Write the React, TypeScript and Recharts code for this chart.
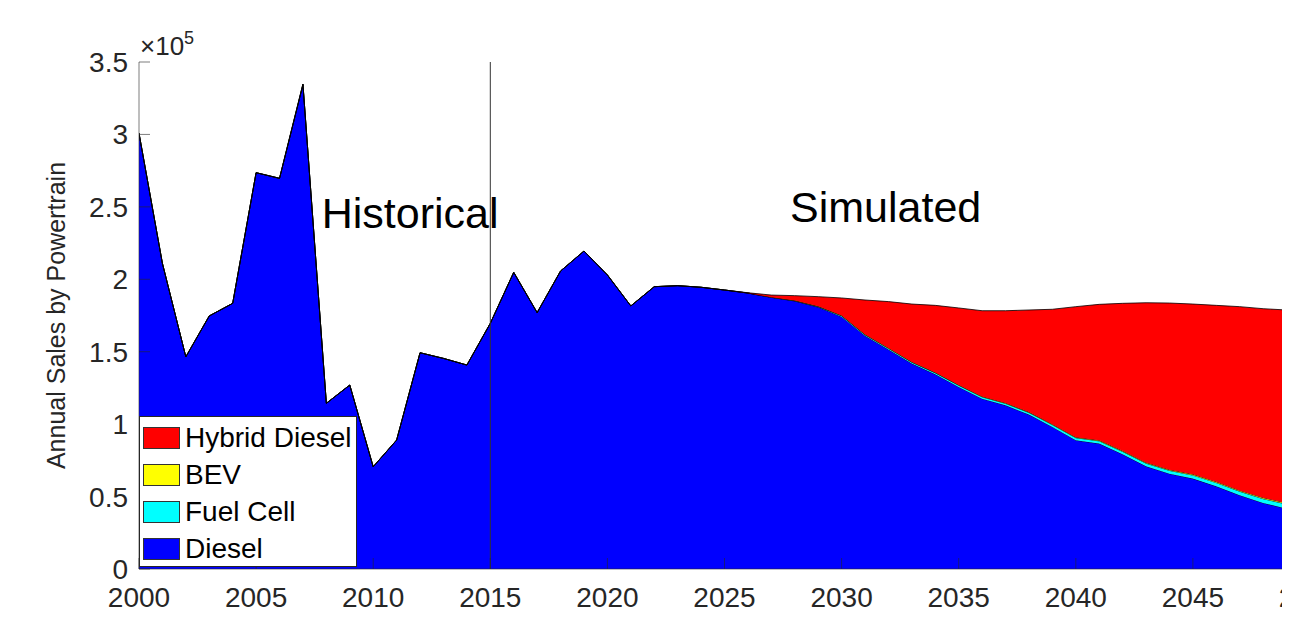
import React from 'react';
import { AreaChart, Area, XAxis, YAxis, ReferenceLine, ReferenceDot, Legend } from 'recharts';

const years = [
  2000, 2001, 2002, 2003, 2004, 2005, 2006, 2007, 2008, 2009,
  2010, 2011, 2012, 2013, 2014, 2015, 2016, 2017, 2018, 2019,
  2020, 2021, 2022, 2023, 2024, 2025, 2026, 2027, 2028, 2029,
  2030, 2031, 2032, 2033, 2034, 2035, 2036, 2037, 2038, 2039,
  2040, 2041, 2042, 2043, 2044, 2045, 2046, 2047, 2048, 2049,
  2050,
];

const diesel = [
  300800, 211000, 146500, 174700, 183400, 273600, 269700, 334600, 114400, 127000,
  70600, 89000, 149300, 145400, 140800, 169600, 204800, 177000, 205700, 219500,
  203000, 181600, 194900, 195600, 194500, 192600, 190500, 187500, 185000, 180800,
  174200, 161000, 151500, 141800, 134400, 125700, 117600, 113000, 106600, 98100,
  88900, 86600, 79200, 70900, 65800, 62400, 57100, 50900, 45600, 41700,
  38500,
];

const fuelCell = [
  0, 0, 0, 0, 0, 0, 0, 0, 0, 0,
  0, 0, 0, 0, 0, 0, 0, 0, 0, 0,
  0, 0, 0, 0, 0, 0, 0, 100, 200, 400,
  600, 700, 800, 900, 1000, 1100, 1200, 1300, 1400, 1500,
  1700, 1800, 1900, 2100, 2200, 2400, 2500, 2700, 2900, 3100,
  3300,
];

const bev = [
  0, 0, 0, 0, 0, 0, 0, 0, 0, 0,
  0, 0, 0, 0, 0, 0, 0, 0, 0, 0,
  0, 0, 0, 0, 0, 0, 0, 50, 100, 120,
  150, 170, 190, 210, 230, 250, 280, 310, 340, 370,
  400, 430, 460, 490, 520, 550, 600, 650, 700, 750,
  800,
];

const hybridDiesel = [
  0, 0, 0, 0, 0, 0, 0, 0, 0, 0,
  0, 0, 0, 0, 0, 0, 0, 0, 0, 0,
  0, 0, 0, 0, 0, 0, 200, 1450, 3400, 6680,
  12150, 23830, 32110, 39990, 46370, 53150, 59220, 63690, 70460, 79330,
  90100, 93870, 101840, 110310, 115080, 117550, 121800, 126850, 130500, 133250,
  135400,
];

const xTicks = [2000, 2005, 2010, 2015, 2020, 2025, 2030, 2035, 2040, 2045, 2050];
const yTicks = [0, 50000, 100000, 150000, 200000, 250000, 300000, 350000];
const legendOrder = ['Hybrid Diesel', 'BEV', 'Fuel Cell', 'Diesel'];
const seriesColors: Record<string, string> = {
  Diesel: '#0000ff',
  'Fuel Cell': '#00ffff',
  BEV: '#ffff00',
  'Hybrid Diesel': '#ff0000',
};

const data = years.map((year, i) => ({
  year,
  Diesel: diesel[i],
  'Fuel Cell': fuelCell[i],
  BEV: bev[i],
  'Hybrid Diesel': hybridDiesel[i],
}));

const FONT = '"Liberation Sans", Arial, Helvetica, sans-serif';
const AXIS = '#262626';

const BottomTick = (props: any) => {
  const { x, y, payload } = props;
  return (
    <g>
      <line x1={x} x2={x} y1={y} y2={y - 11} stroke={AXIS} strokeWidth={0.6} />
      <text x={x} y={y + 38} textAnchor="middle" fontSize={28} fill={AXIS} fontFamily={FONT}>
        {payload.value}
      </text>
    </g>
  );
};

const TopTick = (props: any) => {
  const { x, y } = props;
  return <line x1={x} x2={x} y1={y} y2={y + 11} stroke={AXIS} strokeWidth={0.6} />;
};

const LeftTick = (props: any) => {
  const { x, y, payload } = props;
  const v = payload.value / 100000;
  return (
    <g>
      <line x1={x} x2={x + 11} y1={y} y2={y} stroke={AXIS} strokeWidth={0.6} />
      <text x={x - 11} y={y} dy="0.355em" textAnchor="end" fontSize={28} fill={AXIS} fontFamily={FONT}>
        {String(v)}
      </text>
    </g>
  );
};

const LegendBox = () => (
  <div
    style={{
      width: 218,
      height: 151,
      boxSizing: 'border-box',
      border: '1px solid #262626',
      background: '#fff',
      paddingTop: 2,
      fontFamily: FONT,
      fontSize: 28,
      color: '#000',
    }}
  >
    {legendOrder.map((name) => (
      <div key={name} style={{ display: 'flex', alignItems: 'center', height: 37 }}>
        <span
          style={{
            display: 'inline-block',
            width: 37,
            height: 22,
            marginLeft: 3,
            background: seriesColors[name],
            border: '1px solid #333',
            boxSizing: 'border-box',
          }}
        />
        <span style={{ marginLeft: 5, lineHeight: '37px', whiteSpace: 'nowrap' }}>{name}</span>
      </div>
    ))}
  </div>
);

const textLabel = (text: string) => (props: any) => {
  const vb = props.viewBox || {};
  return (
    <text x={vb.x} y={vb.y} fontSize={43} fill="#000" fontFamily={FONT}>
      {text}
    </text>
  );
};

const YLabel = (props: any) => {
  const vb = props.viewBox || {};
  const cy = vb.y + vb.height / 2;
  return (
    <g>
      <text
        x={65}
        y={cy}
        transform={`rotate(-90, 65, ${cy})`}
        textAnchor="middle"
        fontSize={25}
        fill={AXIS}
        fontFamily={FONT}
      >
        Annual Sales by Powertrain
      </text>
      <text x={vb.x + vb.width + 1} y={vb.y - 7} fontSize={26} fill={AXIS} fontFamily={FONT}>
        ×10
        <tspan dy={-11} fontSize={18}>5</tspan>
      </text>
    </g>
  );
};

export default function App() {
  return (
    <div style={{ margin: -8, width: 1290, height: 617, overflow: 'hidden', background: '#fff' }}>
      <AreaChart
        width={1330}
        height={617}
        data={data}
        margin={{ top: 62, right: 20, bottom: 8, left: 29 }}
      >
        <XAxis
          dataKey="year"
          type="number"
          domain={[2000, 2050]}
          ticks={xTicks}
          interval={0}
          height={40}
          tickSize={0}
          tickMargin={0}
          tick={<BottomTick />}
          axisLine={{ stroke: AXIS, strokeWidth: 0.6 }}
          tickLine={false}
          allowDataOverflow
        />
        <XAxis
          xAxisId="top"
          orientation="top"
          dataKey="year"
          type="number"
          domain={[2000, 2050]}
          ticks={xTicks}
          interval={0}
          height={0}
          tickSize={0}
          tickMargin={0}
          tick={<TopTick />}
          axisLine={{ stroke: AXIS, strokeWidth: 0.6 }}
          tickLine={false}
        />
        <YAxis
          type="number"
          domain={[0, 350000]}
          ticks={yTicks}
          interval={0}
          width={110}
          tickSize={0}
          tickMargin={0}
          tick={<LeftTick />}
          axisLine={{ stroke: AXIS, strokeWidth: 0.6 }}
          tickLine={false}
          label={<YLabel />}
          allowDataOverflow
        />
        <Area
          type="linear"
          dataKey="Diesel"
          stackId="a"
          fill={seriesColors['Diesel']}
          fillOpacity={1}
          stroke="#000"
          strokeWidth={0.8}
          isAnimationActive={false}
        />
        <Area
          type="linear"
          dataKey="Fuel Cell"
          stackId="a"
          fill={seriesColors['Fuel Cell']}
          fillOpacity={1}
          stroke="#000"
          strokeWidth={0.8}
          isAnimationActive={false}
        />
        <Area
          type="linear"
          dataKey="BEV"
          stackId="a"
          fill={seriesColors['BEV']}
          fillOpacity={1}
          stroke="#000"
          strokeWidth={0.8}
          isAnimationActive={false}
        />
        <Area
          type="linear"
          dataKey="Hybrid Diesel"
          stackId="a"
          fill={seriesColors['Hybrid Diesel']}
          fillOpacity={1}
          stroke="#000"
          strokeWidth={0.8}
          isAnimationActive={false}
        />
        <ReferenceLine x={2015} stroke="#333" strokeWidth={1} />
        <ReferenceDot x={2007.8} y={235400} r={0} fill="none" stroke="none" label={textLabel('Historical')} />
        <ReferenceDot x={2027.8} y={239500} r={0} fill="none" stroke="none" label={textLabel('Simulated')} />
        <Legend
          layout="horizontal"
          verticalAlign="middle"
          align="center"
          content={<LegendBox />}
          wrapperStyle={{ position: 'absolute', left: 139, top: 416, width: 218, height: 151 }}
        />
      </AreaChart>
    </div>
  );
}
